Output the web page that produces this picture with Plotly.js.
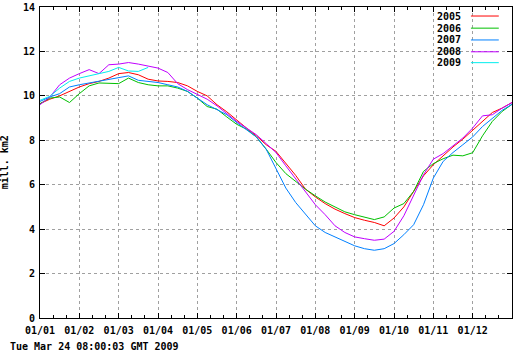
<!DOCTYPE html>
<html>
<head>
<meta charset="utf-8">
<script src="https://cdn.plot.ly/plotly-3.0.1.min.js"></script>
<style>html,body{margin:0;padding:0;background:#fff;}#chart{width:520px;height:356px;}</style>
</head>
<body>
<div id="chart"></div>
<script>
// x position in months since 01/01 (each month is one equal unit on the axis)
const monthPos = [0, 0.25, 0.5, 0.75, 1, 1.25, 1.5, 1.75, 2, 2.25, 2.5, 2.75,
  3, 3.25, 3.5, 3.75, 4, 4.25, 4.5, 4.75, 5, 5.25, 5.5, 5.75,
  6, 6.25, 6.5, 6.75, 7, 7.25, 7.5, 7.75, 8, 8.25, 8.5, 8.75,
  9, 9.25, 9.5, 9.75, 10, 10.25, 10.5, 10.75, 11, 11.25, 11.5, 11.75, 12];

const years = ["2005", "2006", "2007", "2008", "2009"];
const seriesColors = ["#ff0000", "#00c000", "#0080ff", "#c000ff", "#00eeee"];

const ext2005 = [9.65, 9.85, 10.0, 10.2, 10.4, 10.55, 10.65, 10.8, 11.0, 11.05, 10.95, 10.75,
  10.67, 10.65, 10.6, 10.45, 10.2, 10.0, 9.6, 9.28, 8.9, 8.55, 8.2, 7.8,
  7.5, 6.95, 6.42, 5.8, 5.45, 5.15, 4.9, 4.7, 4.52, 4.4, 4.3, 4.15,
  4.5, 5.0, 5.7, 6.4, 6.9, 7.3, 7.7, 8.05, 8.45, 8.85, 9.25, 9.45, 9.7];
const ext2006 = [9.65, 9.9, 9.95, 9.7, 10.1, 10.45, 10.58, 10.58, 10.55, 10.8, 10.6, 10.5,
  10.45, 10.45, 10.35, 10.2, 9.9, 9.52, 9.4, 9.05, 8.72, 8.5, 8.15, 7.6,
  7.0, 6.5, 6.15, 5.8, 5.5, 5.22, 5.0, 4.78, 4.65, 4.55, 4.43, 4.55,
  4.95, 5.15, 5.7, 6.6, 6.95, 7.17, 7.33, 7.3, 7.44, 8.2, 8.85, 9.3, 9.62];
const ext2007 = [9.75, 9.95, 10.1, 10.4, 10.5, 10.58, 10.67, 10.73, 10.82, 10.9, 10.7, 10.65,
  10.6, 10.5, 10.4, 10.2, 9.9, 9.6, 9.38, 9.15, 8.8, 8.47, 8.15, 7.6,
  6.7, 5.85, 5.2, 4.7, 4.15, 3.85, 3.65, 3.45, 3.25, 3.12, 3.05, 3.12,
  3.35, 3.75, 4.2, 5.1, 6.3, 7.05, 7.45, 7.8, 8.15, 8.62, 9.0, 9.35, 9.62];
const ext2008 = [9.6, 9.95, 10.5, 10.8, 11.0, 11.18, 11.0, 11.4, 11.43, 11.5, 11.43, 11.33,
  11.25, 11.05, 10.55, 10.28, 10.08, 9.85, 9.55, 9.2, 8.85, 8.55, 8.25, 7.85,
  7.45, 6.85, 6.25, 5.67, 5.1, 4.65, 4.15, 3.85, 3.65, 3.57, 3.5, 3.55,
  3.9, 4.6, 5.5, 6.45, 7.15, 7.4, 7.75, 8.1, 8.55, 9.1, 9.15, 9.45, 9.7];
const ext2009 = [9.8, 9.98, 10.35, 10.65, 10.8, 10.9, 11.02, 11.1, 11.28, 11.12, 11.1, 11.28];

const tickMonths = [0, 1, 2, 3, 4, 5, 6, 7, 8, 9, 10, 11];
const tickLabels = ["01/01", "01/02", "01/03", "01/04", "01/05", "01/06",
  "01/07", "01/08", "01/09", "01/10", "01/11", "01/12"];
const yTicks = [0, 2, 4, 6, 8, 10, 12, 14];

const yTitle = "mill. km2";
const stamp = "Tue Mar 24 08:00:03 GMT 2009";

const allSeries = [ext2005, ext2006, ext2007, ext2008, ext2009];
const FONT = "DejaVu Sans Mono, monospace";

const traces = allSeries.map((vals, i) => ({
  type: "scatter", mode: "lines", name: years[i],
  x: monthPos.slice(0, vals.length), y: vals,
  line: {color: seriesColors[i], width: 1},
  showlegend: false, hoverinfo: "skip"
}));

// gnuplot-style key: text left, sample line right
const keyRowsY = [0.971, 0.932, 0.894, 0.856, 0.821];
const annotations = years.map((yr, i) => ({
  xref: "paper", yref: "paper", x: 0.897, y: keyRowsY[i],
  xanchor: "right", yanchor: "middle", text: yr, showarrow: false,
  font: {family: FONT, size: 10, color: "#000", weight: "bold"}
}));
annotations.push({
  xref: "paper", yref: "paper", x: -0.0745, y: 0.5, xanchor: "center", yanchor: "middle",
  text: yTitle, textangle: -90, showarrow: false,
  font: {family: FONT, size: 10, color: "#000", weight: "bold"}
});
annotations.push({
  xref: "paper", yref: "paper", x: -0.068, y: -0.093, xanchor: "left", yanchor: "middle",
  text: stamp, showarrow: false,
  font: {family: FONT, size: 10, color: "#000", weight: "bold"}
});

const shapes = [{
  type: "rect", xref: "paper", yref: "paper", x0: 0.841, x1: 0.998, y0: 0.8, y1: 0.998,
  fillcolor: "#ffffff", line: {width: 0}, layer: "between"
}];
years.forEach((yr, i) => shapes.push({
  type: "line", xref: "paper", yref: "paper", x0: 0.913, x1: 0.972,
  y0: keyRowsY[i], y1: keyRowsY[i], line: {color: seriesColors[i], width: 1}, layer: "above"
}));

const axisCommon = {
  showline: true, linecolor: "#000", linewidth: 1, mirror: "allticks",
  ticks: "inside", tickcolor: "#000", ticklen: 5, tickwidth: 1,
  showgrid: true, gridcolor: "#a0a0a0", griddash: "dot", gridwidth: 1,
  zeroline: false, fixedrange: true,
  tickfont: {family: FONT, size: 10, color: "#000", weight: "bold"}
};

const layout = {
  width: 520, height: 356,
  margin: {l: 40, r: 8, t: 7, b: 38, pad: 0},
  paper_bgcolor: "#fff", plot_bgcolor: "#fff",
  showlegend: false,
  xaxis: Object.assign({}, axisCommon, {
    range: [0, 12], tickmode: "array", tickvals: tickMonths, ticktext: tickLabels,
    ticklabelstandoff: 3,
    minor: {tick0: 0, dtick: 1 / 3, ticks: "inside", ticklen: 3, tickcolor: "#000", showgrid: false}
  }),
  yaxis: Object.assign({}, axisCommon, {
    range: [0, 14], tickmode: "array", tickvals: yTicks, ticktext: yTicks.map(String),
    ticklabelstandoff: 2
  }),
  annotations: annotations,
  shapes: shapes
};

Plotly.newPlot("chart", traces, layout, {staticPlot: true, displayModeBar: false});
</script>
</body>
</html>
